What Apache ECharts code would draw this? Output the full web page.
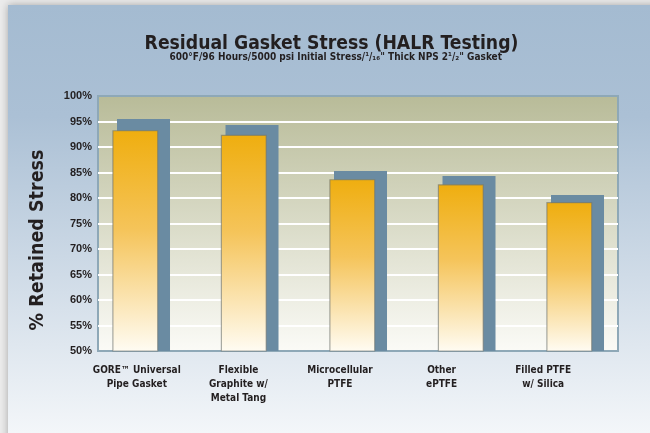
<!DOCTYPE html>
<html>
<head>
<meta charset="utf-8">
<script src="https://cdn.jsdelivr.net/npm/echarts@6/dist/echarts.min.js"></script>
<style>
  html, body { margin: 0; padding: 0; background: #ececec; }
  #chart { width: 650px; height: 433px; }
</style>
</head>
<body>
<div id="chart"></div>
<script>
// categories and values
var categories = ['GORE\u2122 Universal\nPipe Gasket', 'Flexible\nGraphite w/\nMetal Tang', 'Microcellular\nPTFE', 'Other\nePTFE', 'Filled PTFE\nw/ Silica'];
var retained = [93.3, 92.4, 83.7, 82.7, 79.2];
// blue "shadow" bar drawn behind each value bar
var shadowTop = [95.5, 94.3, 85.3, 84.3, 80.6];
var yTicks = [50, 100, 5];

var narrow = "'Liberation Sans Narrow', 'DejaVu Sans Condensed', sans-serif";
var ink = '#231f20';

var myChart = echarts.init(document.getElementById('chart'));
var option = {
  animation: false,
  graphic: [
    {
      type: 'rect', z: -10,
      shape: { x: 8, y: 5, width: 660, height: 445 },
      style: {
        fill: new echarts.graphic.LinearGradient(0, 0, 0, 1, [
          { offset: 0, color: '#a4bbd1' },
          { offset: 0.25, color: '#abc0d5' },
          { offset: 1, color: '#f7f9fb' }
        ]),
        shadowBlur: 8,
        shadowColor: 'rgba(0,0,0,0.3)'
      }
    },
    {
      type: 'text', x: 38, y: 240, rotation: Math.PI / 2,
      style: {
        text: '% Retained Stress',
        fill: ink,
        font: 'bold 19.5px ' + narrow,
        textAlign: 'center',
        textVerticalAlign: 'middle'
      }
    }
  ],
  title: [
    {
      text: 'Residual Gasket Stress (HALR Testing)',
      left: 331.5, top: 35, padding: 0, textAlign: 'center',
      textStyle: { fontFamily: narrow, fontWeight: 'bold', fontSize: 19.2, color: ink }
    },
    {
      text: '600\u00b0F/96 Hours/5000 psi Initial Stress/\u00b9/\u2081\u2086" Thick NPS 2\u00b9/\u2082" Gasket',
      left: 335.8, top: 52, padding: 0, textAlign: 'center',
      textStyle: { fontFamily: narrow, fontWeight: 'bold', fontSize: 10, color: ink }
    }
  ],
  grid: [
    { // plot frame and scale
      left: 98, right: 32, top: 96, bottom: 82,
      show: true,
      borderColor: '#8ea8b7',
      borderWidth: 2,
      backgroundColor: new echarts.graphic.LinearGradient(0, 0, 0, 1, [
        { offset: 0, color: '#b8bb98' },
        { offset: 1, color: '#fbfbf7' }
      ])
    },
    { left: 83.4, right: 24.1, top: 96, bottom: 82 },  // bars
    { left: 86, right: 56, top: 96, bottom: 82 }       // category labels
  ],
  xAxis: [
    { gridIndex: 0, type: 'category', data: categories, show: false },
    { gridIndex: 1, type: 'category', data: categories, show: false },
    {
      gridIndex: 2, type: 'category', data: categories,
      axisLine: { show: false }, axisTick: { show: false },
      axisLabel: {
        color: ink, fontFamily: narrow, fontWeight: 'bold', fontSize: 10,
        lineHeight: 14, margin: 12, interval: 0
      }
    }
  ],
  yAxis: [
    {
      gridIndex: 0, type: 'value', min: yTicks[0], max: yTicks[1], interval: yTicks[2],
      axisLine: { show: false }, axisTick: { show: false },
      axisLabel: {
        formatter: '{value}%', color: ink, fontWeight: 'bold', fontSize: 11,
        fontFamily: "'Liberation Sans', Arial, sans-serif", margin: 6
      },
      splitLine: { show: true, showMinLine: false, showMaxLine: false, lineStyle: { color: '#ffffff', width: 2 } }
    },
    { gridIndex: 1, type: 'value', min: yTicks[0], max: yTicks[1], show: false, splitLine: { show: false } },
    { gridIndex: 2, type: 'value', min: yTicks[0], max: yTicks[1], show: false, splitLine: { show: false } }
  ],
  series: [
    {
      name: 'shadow', type: 'bar', xAxisIndex: 1, yAxisIndex: 1,
      barWidth: 53, barGap: '-108.9%',
      itemStyle: { color: '#6a8ba2' },
      data: shadowTop
    },
    {
      name: 'retained', type: 'bar', xAxisIndex: 1, yAxisIndex: 1,
      barWidth: 46,
      itemStyle: {
        color: new echarts.graphic.LinearGradient(0, 0, 0, 1, [
          { offset: 0, color: '#efae0f' },
          { offset: 0.45, color: '#f5c45a' },
          { offset: 1, color: '#fffcf3' }
        ]),
        borderColor: 'rgba(110,115,110,0.6)',
        borderWidth: 1.2
      },
      data: retained
    }
  ]
};
myChart.setOption(option);
window.addEventListener('resize', function () { myChart.resize(); });
</script>
</body>
</html>
